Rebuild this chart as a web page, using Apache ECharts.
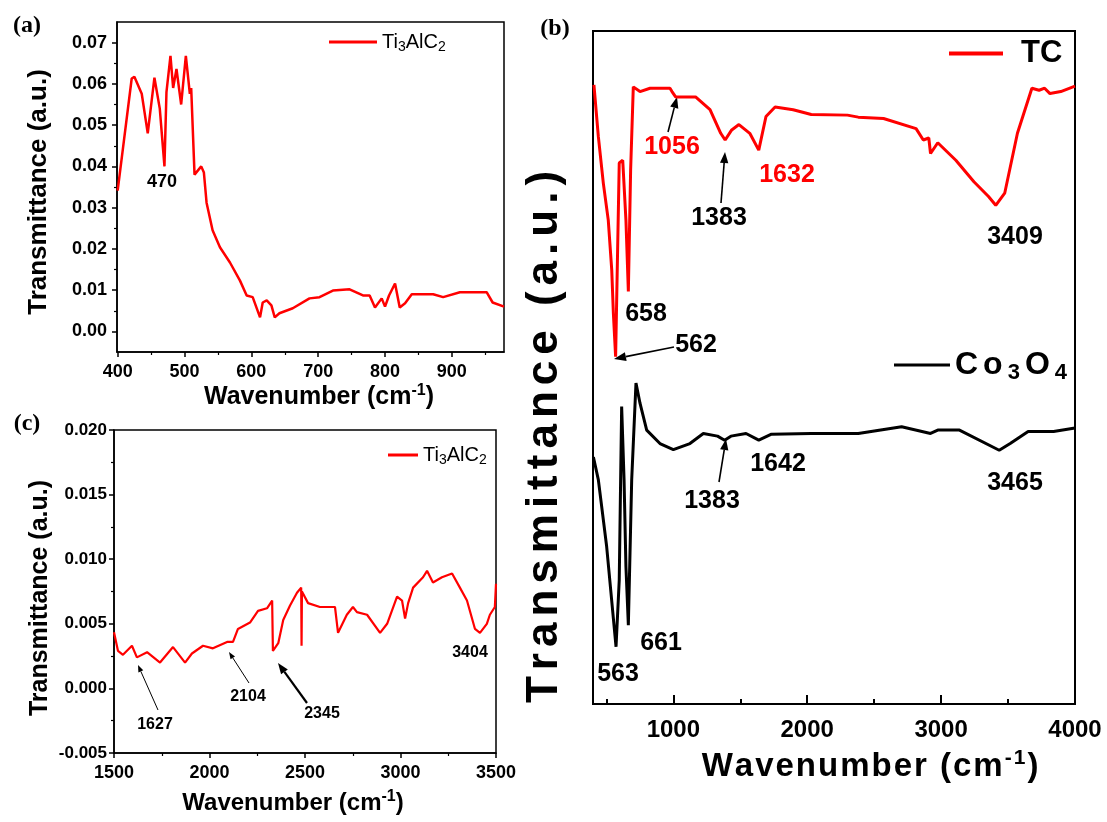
<!DOCTYPE html>
<html>
<head>
<meta charset="utf-8">
<script src="https://cdn.jsdelivr.net/npm/echarts@6/dist/echarts.min.js"></script>
<style>
html, body { margin: 0; padding: 0; background: #fff; }
#chart { width: 1107px; height: 822px; }
</style>
</head>
<body>
<div id="chart"></div>
<script>
// (a) Ti3AlC2, 400-980 cm-1
var aWave = [400,421,425,436,445,455,463,470,473,479,483,488,495,502,508,510,515,525,529,533,542,553,568,583,593,602,613,617,623,630,635,642,662,687,702,722,747,767,777,785,795,800,806,815,822,830,840,872,887,912,937,952,961,978];
var aTrans = [0.0341,0.0613,0.0617,0.0576,0.048,0.0615,0.054,0.040,0.058,0.0668,0.059,0.0636,0.055,0.0668,0.0576,0.059,0.038,0.040,0.0385,0.0312,0.0245,0.0204,0.0167,0.0123,0.0087,0.0083,0.0034,0.007,0.0075,0.0063,0.0034,0.0044,0.0056,0.008,0.0083,0.0099,0.0102,0.0087,0.0087,0.0058,0.008,0.006,0.0087,0.0116,0.0058,0.0068,0.009,0.009,0.0083,0.0095,0.0095,0.0095,0.007,0.006];

// (c) Ti3AlC2, 1500-3500 cm-1
var cWave = [1500,1521,1547,1594,1620,1673,1741,1809,1872,1908,1966,2018,2092,2123,2149,2212,2254,2301,2328,2332,2360,2386,2421,2458,2480,2482,2484,2516,2578,2657,2673,2719,2751,2772,2825,2893,2930,2982,3008,3024,3040,3066,3118,3139,3170,3217,3270,3311,3348,3390,3416,3452,3468,3494,3500];
var cTrans = [0.00434,0.0029,0.0026,0.0033,0.0024,0.0028,0.0020,0.0032,0.0020,0.0027,0.0033,0.0031,0.0036,0.0036,0.0046,0.0051,0.0060,0.0062,0.0068,0.0029,0.0035,0.0053,0.0064,0.0074,0.0078,0.0033,0.0075,0.0066,0.0063,0.0063,0.0043,0.0057,0.0063,0.0059,0.0057,0.0043,0.0050,0.0071,0.0068,0.0054,0.0066,0.0078,0.0086,0.0091,0.0082,0.0086,0.0089,0.0078,0.0068,0.0046,0.0043,0.0050,0.0057,0.0063,0.0081];

// (b) TC 与 Co3O4 (任意单位)
var tcWave = [407,440,477,514,540,552,569,596,622,646,664,681,701,751,826,975,990,1017,1166,1274,1354,1387,1436,1490,1571,1638,1692,1760,1895,2030,2300,2381,2570,2813,2867,2908,2921,2975,3110,3245,3354,3408,3475,3570,3678,3732,3773,3813,3894,4000];
var tcTrans = [92.0,84.3,77.4,71.9,64.5,58.1,51.6,80.4,80.8,71.9,61.3,79.3,91.7,91.0,91.5,91.5,91.0,90.2,90.2,88.3,84.8,83.8,85.3,86.1,84.8,82.3,87.3,88.7,88.3,87.6,87.5,87.2,87.0,85.5,83.8,84.1,81.8,83.4,80.8,77.6,75.4,74.1,75.9,84.8,91.5,91.2,91.5,90.7,91.0,91.8];
var coWave = [403,440,502,572,596,614,632,646,664,689,721,751,801,900,1000,1124,1224,1330,1383,1430,1543,1638,1733,2030,2381,2705,2921,2975,3137,3434,3516,3650,3840,4000];
var coTrans = [36.7,33.3,23.4,8.5,18.4,44.2,33.3,20.4,11.7,33.3,47.7,44.7,40.7,38.7,37.8,38.7,40.2,39.8,39.2,39.8,40.2,39.2,40.1,40.2,40.2,41.2,40.2,40.7,40.7,37.7,38.7,40.5,40.5,41.0];

// 刻度
var aXTicks = [400,500,600,700,800,900];
var aXMinor = [450,550,650,750,850,950];
var aYTicks = [0,0.01,0.02,0.03,0.04,0.05,0.06,0.07];
var aYMinor = [0.005,0.015,0.025,0.035,0.045,0.055,0.065];
var bXTicks = [1000,2000,3000,4000];
var bXMinor = [500,1500,2500,3500];

var FONT = "'Liberation Sans', Arial, sans-serif";
var SERIF = "'Liberation Serif', 'Times New Roman', serif";

function pairs(xs, ys) {
	var out = [];
	for (var i = 0; i < xs.length; i++) out.push([xs[i], ys[i]]);
	return out;
}

//上标标题的富文本样式
function supRich(size, pad) {
	return {
		n: { fontSize: size, fontWeight: 'bold', fontFamily: FONT, fill: '#000', color: '#000', padding: [0, pad, 0, 0] },
		s: { fontSize: Math.round(size * 0.65), fontWeight: 'bold', fontFamily: FONT, fill: '#000', color: '#000', padding: [0, pad, Math.round(size * 0.5), 0] }
	};
}
function spaced(str, tok) {
	return str.split('').map(function (c) { return '{' + tok + '|' + c + '}'; }).join('');
}

function label(x, y, str, size, color, weight) {
	return {
		type: 'text', x: x, y: y, silent: true,
		style: { text: str, fill: color || '#000', font: (weight || 'bold') + ' ' + size + 'px ' + FONT, align: 'center', verticalAlign: 'middle' }
	};
}
function tagText(x, y, str) {
	return {
		type: 'text', x: x, y: y, silent: true,
		style: { text: str, fill: '#000', font: 'bold 24px ' + SERIF, align: 'center', verticalAlign: 'middle' }
	};
}
function richText(x, y, str, rich, rot) {
	return {
		type: 'text', x: x, y: y, rotation: rot || 0, silent: true,
		style: { text: str, rich: rich, align: 'center', verticalAlign: 'middle' }
	};
}
function arrow(x1, y1, x2, y2, w, head) {
	var ang = Math.atan2(y2 - y1, x2 - x1);
	var hx = x2 - head * Math.cos(ang), hy = y2 - head * Math.sin(ang);
	var px = Math.sin(ang) * head * 0.38, py = -Math.cos(ang) * head * 0.38;
	return [
		{ type: 'line', silent: true, shape: { x1: x1, y1: y1, x2: hx, y2: hy }, style: { stroke: '#000', lineWidth: w } },
		{ type: 'polygon', silent: true, shape: { points: [[x2, y2], [hx + px, hy + py], [hx - px, hy - py]] }, style: { fill: '#000' } }
	];
}

var tickFont = { color: '#000', fontWeight: 'bold', fontFamily: FONT };
function plain(v) { return String(v); }
function axLine(w) { return { show: true, onZero: false, lineStyle: { color: '#000', width: w } }; }

var rects = [
	{ left: 117, top: 22, width: 387, height: 330 },
	{ left: 114, top: 430, width: 382, height: 323 },
	{ left: 593, top: 31, width: 482, height: 673 }
];
var grids = rects.map(function (r, i) {
	return { left: r.left, top: r.top, width: r.width, height: r.height, show: true,
		borderColor: '#000', borderWidth: i == 2 ? 2 : 1.5, backgroundColor: 'transparent' };
});
//次刻度用的同位置网格
grids.push({ left: rects[0].left, top: rects[0].top, width: rects[0].width, height: rects[0].height, show: false });
grids.push({ left: rects[2].left, top: rects[2].top, width: rects[2].width, height: rects[2].height, show: false });

function minorAxis(grid, min, max, vals, inside, len, w, pos) {
	return { gridIndex: grid, type: 'value', min: min, max: max, position: pos, axisLine: { show: false, onZero: false },
		axisTick: { show: true, inside: inside, length: len, customValues: vals, lineStyle: { color: '#000', width: w } },
		axisLabel: { show: false }, splitLine: { show: false } };
}

var xAxes = [
	//(a)
	{ gridIndex: 0, type: 'value', min: 399, max: 978, axisLine: axLine(1.5),
	  axisTick: { show: true, length: 5, customValues: aXTicks, lineStyle: { color: '#000', width: 1.5 } },
	  axisLabel: Object.assign({ customValues: aXTicks, margin: 11, fontSize: 18, formatter: plain }, tickFont), splitLine: { show: false } },
	//(c)
	{ gridIndex: 1, type: 'value', min: 1500, max: 3500, interval: 500, axisLine: axLine(1.5),
	  axisTick: { show: true, length: 5, lineStyle: { color: '#000', width: 1.5 } },
	  minorTick: { show: true, splitNumber: 2, length: 3, lineStyle: { color: '#000', width: 1.2 } },
	  axisLabel: Object.assign({ margin: 11, fontSize: 18, formatter: plain }, tickFont), splitLine: { show: false }, minorSplitLine: { show: false } },
	//(b)
	{ gridIndex: 2, type: 'value', min: 400, max: 4000, axisLine: axLine(2),
	  axisTick: { show: true, inside: true, length: 9, customValues: bXTicks, lineStyle: { color: '#000', width: 2 } },
	  axisLabel: Object.assign({ customValues: bXTicks, margin: 14, fontSize: 24, formatter: plain }, tickFont), splitLine: { show: false } },
	//次刻度
	minorAxis(3, 399, 978, aXMinor, false, 3, 1.2, 'bottom'),
	minorAxis(4, 400, 4000, bXMinor, true, 5, 2, 'bottom')
];

var yAxes = [
	//(a)
	{ gridIndex: 0, type: 'value', min: -0.005, max: 0.075, axisLine: axLine(1.5),
	  axisTick: { show: true, length: 5, customValues: aYTicks, lineStyle: { color: '#000', width: 1.5 } },
	  axisLabel: Object.assign({ customValues: aYTicks, margin: 10, fontSize: 18, formatter: function (v) { return v.toFixed(2); } }, tickFont),
	  splitLine: { show: false } },
	//(c)
	{ gridIndex: 1, type: 'value', min: -0.005, max: 0.02, interval: 0.005, axisLine: axLine(1.5),
	  axisTick: { show: true, length: 5, lineStyle: { color: '#000', width: 1.5 } },
	  minorTick: { show: true, splitNumber: 2, length: 3, lineStyle: { color: '#000', width: 1.2 } },
	  axisLabel: Object.assign({ margin: 7, fontSize: 17, formatter: function (v) { return v.toFixed(3); } }, tickFont),
	  splitLine: { show: false }, minorSplitLine: { show: false } },
	//(b)
	{ gridIndex: 2, type: 'value', min: 0, max: 100, axisLine: axLine(2), axisTick: { show: false },
	  axisLabel: { show: false }, splitLine: { show: false } },
	//次刻度
	minorAxis(3, -0.005, 0.075, aYMinor, false, 3, 1.2, 'left'),
	{ gridIndex: 4, type: 'value', min: 0, max: 100, show: false }
];

var tiRich = {
	n: { fontSize: 20, fontFamily: FONT, color: '#000' },
	b: { fontSize: 14, fontFamily: FONT, color: '#000', padding: [11, 0, 0, 0] }
};
var tiName = '{n|Ti}{b|3}{n|AlC}{b|2}';

var option = {
	animation: false,
	backgroundColor: '#fff',
	grid: grids,
	xAxis: xAxes,
	yAxis: yAxes,
	legend: [
		{ data: ['Ti3AlC2'], left: 329, top: 32, padding: 0, itemWidth: 48, itemHeight: 3, icon: 'rect', selectedMode: false,
		  formatter: function () { return tiName; }, textStyle: { rich: tiRich } },
		{ data: ['Ti3AlC2'], left: 388, top: 445, padding: 0, itemWidth: 30, itemHeight: 3, icon: 'rect', selectedMode: false,
		  formatter: function () { return tiName; }, textStyle: { rich: tiRich } },
		{ data: ['TC'], left: 949, top: 38, padding: 0, itemWidth: 54, itemHeight: 4, icon: 'rect', selectedMode: false,
		  formatter: '{t|TC}', textStyle: { rich: { t: { fontSize: 31, fontWeight: 'bold', fontFamily: FONT, color: '#000', padding: [0, 0, 0, 13] } } } },
		{ data: ['Co3O4'], left: 894, top: 349, padding: 0, itemWidth: 56, itemHeight: 3, icon: 'rect', selectedMode: false,
		  formatter: '{c|C}{c|o}{s|3}{c|O}{s|4}',
		  textStyle: { rich: {
			c: { fontSize: 32, fontWeight: 'bold', fontFamily: FONT, color: '#000', padding: [0, 5, 0, 0] },
			s: { fontSize: 22, fontWeight: 'bold', fontFamily: FONT, color: '#000', padding: [16, 5, 0, 0] } } } }
	],
	series: [
		{ name: 'Ti3AlC2', type: 'line', xAxisIndex: 0, yAxisIndex: 0, data: pairs(aWave, aTrans), showSymbol: false, symbol: 'none',
		  lineStyle: { color: '#ff0000', width: 2.5 }, itemStyle: { color: '#ff0000' } },
		{ name: 'Ti3AlC2', type: 'line', xAxisIndex: 1, yAxisIndex: 1, data: pairs(cWave, cTrans), showSymbol: false, symbol: 'none',
		  lineStyle: { color: '#ff0000', width: 2.2 }, itemStyle: { color: '#ff0000' } },
		{ name: 'TC', type: 'line', xAxisIndex: 2, yAxisIndex: 2, data: pairs(tcWave, tcTrans), showSymbol: false, symbol: 'none',
		  lineStyle: { color: '#ff0000', width: 3 }, itemStyle: { color: '#ff0000' } },
		{ name: 'Co3O4', type: 'line', xAxisIndex: 2, yAxisIndex: 2, data: pairs(coWave, coTrans), showSymbol: false, symbol: 'none',
		  lineStyle: { color: '#000', width: 3 }, itemStyle: { color: '#000' } }
	],
	graphic: { elements: [].concat(
		//(a)
		[tagText(27, 26, '(a)'),
		 label(162, 182, '470', 18),
		 richText(39, 192, '{n|Transmittance (a.u.)}', supRich(26, 0), Math.PI / 2),
		 richText(319, 397, '{n|Wavenumber (cm}{s|-1}{n|)}', supRich(25, 0))],
		//(c)
		[tagText(27, 424, '(c)'),
		 label(155, 725, '1627', 16), label(248, 697, '2104', 16), label(322, 714, '2345', 16), label(470, 653, '3404', 16),
		 richText(40, 598, '{n|Transmittance (a.u.)}', supRich(25, 0), Math.PI / 2),
		 richText(293, 803, '{n|Wavenumber (cm}{s|-1}{n|)}', supRich(24, 0))],
		arrow(158, 710, 138, 665, 1, 7),
		arrow(249, 683, 229, 652, 1, 7),
		arrow(307, 703, 278, 663, 2.2, 11),
		//(b)
		[tagText(555, 29, '(b)'),
		 label(672, 147, '1056', 25, '#ff0000'), label(787, 175, '1632', 25, '#ff0000'),
		 label(719, 218, '1383', 25), label(1015, 237, '3409', 25), label(646, 314, '658', 25), label(696, 345, '562', 25),
		 label(778, 464, '1642', 25), label(712, 501, '1383', 25), label(1015, 483, '3465', 25),
		 label(661, 643, '661', 25), label(618, 674, '563', 25),
		 richText(545, 434, spaced('Transmittance (a.u.)', 'n'), supRich(44, 6), Math.PI / 2),
		 richText(871, 767, spaced('Wavenumber (cm', 'n') + '{s|-}{s|1}{n|)}', supRich(33, 2))],
		arrow(668, 132, 677, 97, 1.6, 11),
		arrow(721, 203, 725, 152, 1.6, 11),
		arrow(674, 347, 614, 359, 1.6, 12),
		arrow(719, 482, 726, 439, 1.6, 11)
	) }
};

var myChart = echarts.init(document.getElementById('chart'));
myChart.setOption(option);
window.onresize = myChart.resize;
</script>
</body>
</html>
